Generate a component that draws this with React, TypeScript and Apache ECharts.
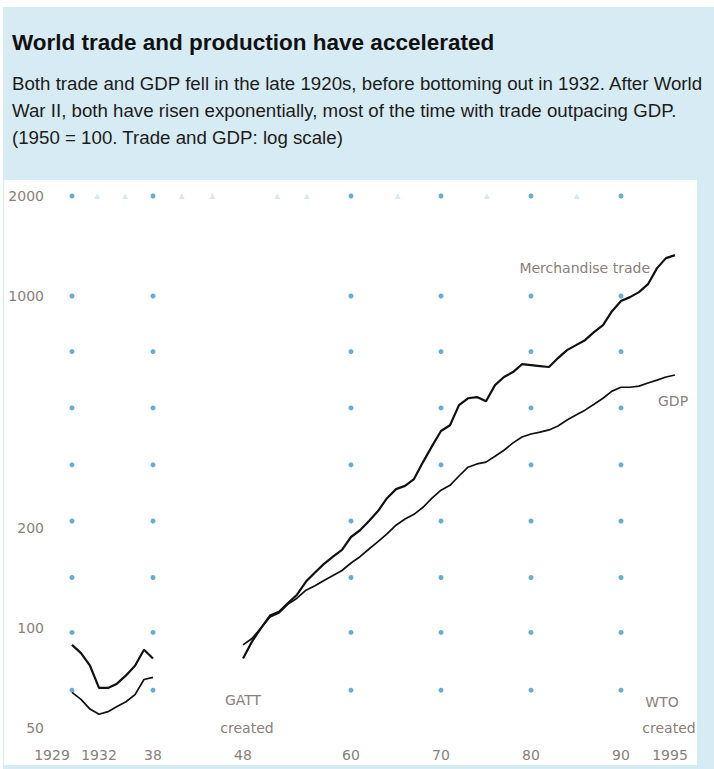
import React, { useEffect, useRef } from 'react';
import * as echarts from 'echarts';

// ---- data ----
const preYears = [1929, 1930, 1931, 1932, 1933, 1934, 1935, 1936, 1937, 1938];
const tradePre = [89, 84, 77, 66, 66, 68, 72, 77, 86, 81];
const gdpPre = [64, 61, 57, 55, 56, 58, 60, 63, 70, 71];

const postYears = [
  1948, 1949, 1950, 1951, 1952, 1953, 1954, 1955, 1956, 1957, 1958, 1959,
  1960, 1961, 1962, 1963, 1964, 1965, 1966, 1967, 1968, 1969,
  1970, 1971, 1972, 1973, 1974, 1975, 1976, 1977, 1978, 1979,
  1980, 1981, 1982, 1983, 1984, 1985, 1986, 1987, 1988, 1989,
  1990, 1991, 1992, 1993, 1994, 1995, 1996,
];
const tradePost = [
  81, 91, 100, 109, 112, 119, 126, 138, 147, 156, 164, 172,
  188, 197, 210, 225, 246, 262, 268, 281, 316, 353,
  392, 408, 469, 492, 496, 482, 539, 570, 590, 623,
  619, 615, 611, 650, 687, 711, 736, 778, 817, 900,
  965, 992, 1027, 1085, 1213, 1300, 1327,
];
const gdpPost = [
  89, 93, 100, 108, 111, 118, 123, 130, 134, 139, 144, 149,
  157, 164, 173, 182, 192, 204, 213, 220, 231, 246,
  260, 269, 287, 305, 312, 316, 329, 343, 361, 376,
  384, 389, 395, 406, 423, 438, 453, 472, 492, 517,
  531, 531, 535, 547, 558, 570, 578,
];

const dotColumns = [1929, 1938, 1960, 1970, 1980, 1990];
const dotLevels = [2000, 1000, 680, 460, 310, 210, 142, 97, 65];
const faintTopYears = [1931.8, 1934.9, 1941.2, 1944.6, 1951.8, 1955.1, 1965.2, 1975.1, 1985.1];

const yTickValues = [50, 100, 200, 1000, 2000];
const xTickYears = [1929, 1932, 1938, 1948, 1960, 1970, 1980, 1990, 1995];
const xTickLabels = ['1929', '1932', '38', '48', '60', '70', '80', '90', '1995'];

const titleText = 'World trade and production have accelerated';
const bodyLines = [
  'Both trade and GDP fell in the late 1920s, before bottoming out in 1932. After World',
  'War II, both have risen exponentially, most of the time with trade outpacing GDP.',
  '(1950 = 100. Trade and GDP: log scale)',
];

const labelColor = '#8a807b';
const chartFont = 'DejaVu Sans';
const lineColor = '#111111';

function pairs(xs: number[], ys: number[]) {
  return xs.map((x, i) => [x, ys[i]]);
}

export default function App() {
  const ref = useRef<HTMLDivElement>(null);

  useEffect(() => {
    if (!ref.current) return;
    const chart = echarts.init(ref.current, undefined, { renderer: 'svg' });

    const dotData: number[][] = [];
    dotLevels.forEach((lv) => dotColumns.forEach((c) => dotData.push([c, lv])));

    const labelText = (text: string, x: number, y: number, align: string) => ({
      type: 'text',
      x,
      y,
      z: 10,
      style: {
        text,
        fill: labelColor,
        font: `14px "${chartFont}"`,
        textAlign: align,
        textVerticalAlign: 'middle',
      },
    });

    const option: any = {
      animation: false,
      backgroundColor: '#ffffff',
      grid: { left: 45, right: 30, top: 196, bottom: 41, containLabel: false },
      xAxis: {
        type: 'value',
        min: 1926,
        max: 1997,
        axisLine: { show: false },
        axisTick: { show: false },
        splitLine: { show: false },
        axisLabel: {
          customValues: xTickYears,
          margin: 20,
          color: labelColor,
          fontFamily: chartFont,
          fontSize: 14,
          formatter: (v: number) => {
            const i = xTickYears.indexOf(Math.round(v));
            const t = i >= 0 ? xTickLabels[i] : '';
            if (Math.round(v) === 1929) return `{l|${t}}`;
            if (Math.round(v) === 1995) return `{r|${t}}`;
            return t;
          },
          rich: {
            l: { padding: [0, 40, 0, 0], color: labelColor, fontFamily: chartFont, fontSize: 14 },
            r: { padding: [0, 0, 0, 8], color: labelColor, fontFamily: chartFont, fontSize: 14 },
          },
        },
      },
      yAxis: {
        type: 'log',
        logBase: 10,
        min: 50,
        max: 2000,
        axisLine: { show: false },
        axisTick: { show: false },
        splitLine: { show: false },
        axisLabel: {
          customValues: yTickValues,
          margin: 1,
          color: labelColor,
          fontFamily: chartFont,
          fontSize: 14,
          formatter: (v: number) => String(Math.round(v)),
        },
      },
      series: [
        {
          type: 'scatter',
          data: dotData,
          symbol: 'circle',
          symbolSize: 5,
          itemStyle: { color: '#3f9ac6' },
          silent: true,
        },
        {
          type: 'scatter',
          data: faintTopYears.map((y) => [y, 2000]),
          symbol: 'triangle',
          symbolSize: 6,
          itemStyle: { color: '#cfe5ef' },
          silent: true,
        },
        {
          type: 'line',
          data: pairs(preYears, tradePre),
          showSymbol: false,
          lineStyle: { color: lineColor, width: 2.2 },
          silent: true,
        },
        {
          type: 'line',
          data: pairs(preYears, gdpPre),
          showSymbol: false,
          lineStyle: { color: lineColor, width: 1.7 },
          silent: true,
        },
        {
          type: 'line',
          data: pairs(postYears, tradePost),
          showSymbol: false,
          lineStyle: { color: lineColor, width: 2.2 },
          silent: true,
        },
        {
          type: 'line',
          data: pairs(postYears, gdpPost),
          showSymbol: false,
          lineStyle: { color: lineColor, width: 1.7 },
          silent: true,
        },
      ],
      graphic: [
        {
          type: 'rect',
          z: -10,
          shape: { x: 3, y: 7, width: 711, height: 762 },
          style: { fill: '#d7ebf4' },
          silent: true,
        },
        {
          type: 'rect',
          z: -9,
          shape: { x: 4, y: 180, width: 693, height: 585 },
          style: { fill: '#ffffff' },
          silent: true,
        },
        {
          type: 'text',
          x: 12,
          y: 42,
          z: 10,
          style: {
            text: titleText,
            fill: '#111111',
            font: 'bold 22.5px "Liberation Sans"',
            textVerticalAlign: 'middle',
          },
        },
        ...bodyLines.map((t, i) => ({
          type: 'text',
          x: 12,
          y: 83 + i * 27,
          z: 10,
          style: {
            text: t,
            fill: '#1c1c1c',
            font: '18.7px "Liberation Sans"',
            textVerticalAlign: 'middle',
          },
        })),
        labelText('Merchandise trade', 650, 268, 'right'),
        labelText('GDP', 658, 401, 'left'),
        labelText('GATT', 243, 700, 'center'),
        labelText('created', 247, 728, 'center'),
        labelText('WTO', 662, 702, 'center'),
        labelText('created', 669, 728, 'center'),
      ],
    };

    chart.setOption(option);
    return () => chart.dispose();
  }, []);

  return (
    <div
      ref={ref}
      style={{ position: 'fixed', left: 0, top: 0, width: 714, height: 769 }}
    />
  );
}
